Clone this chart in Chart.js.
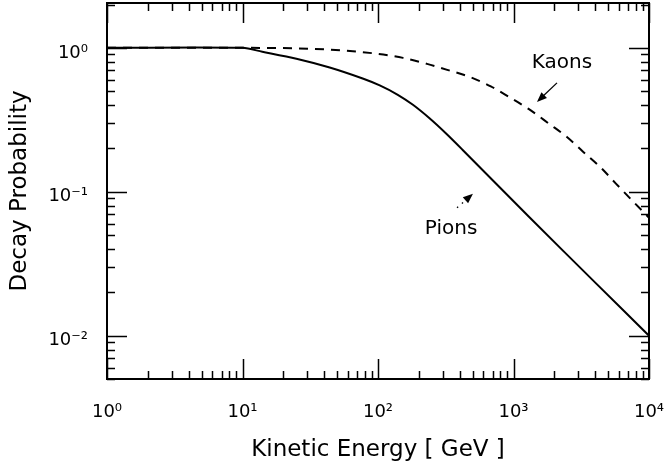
<!DOCTYPE html>
<html>
<head>
<meta charset="utf-8">
<title>Decay Probability</title>
<script src="https://cdn.jsdelivr.net/npm/chart.js@4.4.1/dist/chart.umd.min.js"></script>
<style>
  html, body { margin: 0; padding: 0; background: #fff; }
  #wrap { width: 668px; height: 465px; }
</style>
</head>
<body>
<div id="wrap"><canvas id="decayChart"></canvas></div>
<script>
// kinetic energy in GeV, decay probability (dimensionless)
const pionEnergy = [1, 10, 14, 25, 44, 78, 103, 140, 181, 240, 318, 420, 1300, 4100, 10000];
const pionProb   = [1.0, 1.0, 0.94, 0.84, 0.73, 0.61, 0.548, 0.472, 0.402, 0.324, 0.254, 0.196, 0.067, 0.0229, 0.0100];

const kaonEnergy = [1, 10, 33, 74, 153, 230, 330, 480, 680, 930, 1300, 1830, 2480, 3260, 4350, 5700, 7600, 10000];
const kaonProb   = [1.0, 1.0, 0.984, 0.938, 0.852, 0.774, 0.70, 0.626, 0.54, 0.455, 0.375, 0.297, 0.24, 0.19, 0.149, 0.114, 0.086, 0.066];

const xTickValues = [1, 10, 100, 1000, 10000];
const xTickLabels = ['10⁰', '10¹', '10²', '10³', '10⁴'];
const yTickValues = [0.01, 0.1, 1];
const yTickLabels = ['10⁻²', '10⁻¹', '10⁰'];

// curve labels with their arrows, in data coordinates
const curveNotes = [
  { text: 'Kaons', at: [2280, 0.79], from: [2094, 0.571], to: [1490, 0.421], dotted: false },
  { text: 'Pions', at: [346, 0.055], from: [383, 0.0774], to: [502, 0.0969], dotted: true }
];

const toPoints = (xs, ys) => xs.map((v, i) => ({ x: v, y: ys[i] }));

// closed frame with inward log ticks on all four sides
const frameTicks = {
  id: 'frameTicks',
  afterDatasetsDraw(chart) {
    const { ctx, chartArea: a, scales: { x, y } } = chart;
    ctx.save();
    ctx.strokeStyle = '#000';
    ctx.lineWidth = 2;
    ctx.strokeRect(a.left, a.top, a.right - a.left, a.bottom - a.top);
    ctx.lineWidth = 1.5;
    ctx.beginPath();
    for (let d = 1; d <= 10000; d *= 10) {
      for (let m = 1; m <= 9; m++) {
        const v = d * m;
        if (v < x.min || v > x.max) continue;
        const px = Math.round(x.getPixelForValue(v)) + 0.5;
        const len = m === 1 ? 20 : 8;
        ctx.moveTo(px, a.bottom); ctx.lineTo(px, a.bottom - len);
        ctx.moveTo(px, a.top); ctx.lineTo(px, a.top + len);
      }
    }
    for (let e = -3; e <= 0; e++) {
      for (let m = 1; m <= 9; m++) {
        const v = m * Math.pow(10, e);
        if (v < y.min * 0.999 || v > y.max) continue;
        const py = Math.round(y.getPixelForValue(v)) + 0.5;
        const len = m === 1 ? 20 : 8;
        ctx.moveTo(a.left, py); ctx.lineTo(a.left + len, py);
        ctx.moveTo(a.right, py); ctx.lineTo(a.right - len, py);
      }
    }
    ctx.stroke();

    // curve labels and arrows
    ctx.fillStyle = '#000';
    ctx.font = '20px "DejaVu Sans"';
    ctx.textAlign = 'center';
    ctx.textBaseline = 'middle';
    curveNotes.forEach(n => {
      ctx.fillText(n.text, x.getPixelForValue(n.at[0]), y.getPixelForValue(n.at[1]));
      const x0 = x.getPixelForValue(n.from[0]), y0 = y.getPixelForValue(n.from[1]);
      const x1 = x.getPixelForValue(n.to[0]), y1 = y.getPixelForValue(n.to[1]);
      const ang = Math.atan2(y1 - y0, x1 - x0);
      ctx.lineWidth = 1.3;
      ctx.setLineDash(n.dotted ? [1.5, 5] : []);
      ctx.beginPath();
      ctx.moveTo(x0, y0);
      ctx.lineTo(x1 - 6 * Math.cos(ang), y1 - 6 * Math.sin(ang));
      ctx.stroke();
      ctx.setLineDash([]);
      ctx.beginPath();
      ctx.moveTo(x1, y1);
      ctx.lineTo(x1 - 10 * Math.cos(ang) + 4 * Math.sin(ang), y1 - 10 * Math.sin(ang) - 4 * Math.cos(ang));
      ctx.lineTo(x1 - 10 * Math.cos(ang) - 4 * Math.sin(ang), y1 - 10 * Math.sin(ang) + 4 * Math.cos(ang));
      ctx.closePath();
      ctx.fill();
    });
    ctx.restore();
  }
};

new Chart(document.getElementById('decayChart'), {
  type: 'line',
  data: {
    datasets: [
      {
        label: 'Pions',
        data: toPoints(pionEnergy, pionProb),
        borderColor: '#000',
        borderWidth: 2,
        pointRadius: 0,
        fill: false,
        tension: 0.3
      },
      {
        label: 'Kaons',
        data: toPoints(kaonEnergy, kaonProb),
        borderColor: '#000',
        borderWidth: 2,
        borderDash: [9, 7],
        pointRadius: 0,
        fill: false,
        cubicInterpolationMode: 'monotone'
      }
    ]
  },
  options: {
    responsive: true,
    maintainAspectRatio: false,
    animation: false,
    layout: { padding: { left: 0, top: 3, right: 19, bottom: 0 } },
    scales: {
      x: {
        type: 'logarithmic',
        position: 'bottom',
        min: 1,
        max: 10000,
        grid: { display: false, drawTicks: false },
        border: { display: false },
        afterBuildTicks: s => { s.ticks = xTickValues.map(v => ({ value: v })); },
        afterFit: s => { s.height = 86; s.paddingLeft = 0; s.paddingRight = 0; },
        ticks: {
          padding: 23,
          color: '#000',
          font: { family: 'DejaVu Sans', size: 18 },
          maxRotation: 0,
          callback: v => xTickLabels[xTickValues.indexOf(v)]
        },
        title: {
          display: true,
          text: 'Kinetic Energy [ GeV ]',
          color: '#000',
          font: { family: 'DejaVu Sans', size: 23, weight: 'normal' },
          padding: { top: 0, bottom: 1 }
        }
      },
      y: {
        type: 'logarithmic',
        min: 0.005,
        max: 2.05,
        grid: { display: false, drawTicks: false },
        border: { display: false },
        afterBuildTicks: s => { s.ticks = yTickValues.map(v => ({ value: v })); },
        afterFit: s => { s.width = 107; s.paddingTop = 0; s.paddingBottom = 0; },
        ticks: {
          padding: 19,
          labelOffset: 5,
          color: '#000',
          font: { family: 'DejaVu Sans', size: 18 },
          callback: v => yTickLabels[yTickValues.indexOf(v)]
        },
        title: {
          display: true,
          text: 'Decay Probability',
          color: '#000',
          font: { family: 'DejaVu Sans', size: 23, weight: 'normal' },
          padding: { top: 6, bottom: 0 }
        }
      }
    },
    plugins: {
      legend: { display: false },
      tooltip: { enabled: false }
    }
  },
  plugins: [frameTicks]
});
</script>
</body>
</html>
